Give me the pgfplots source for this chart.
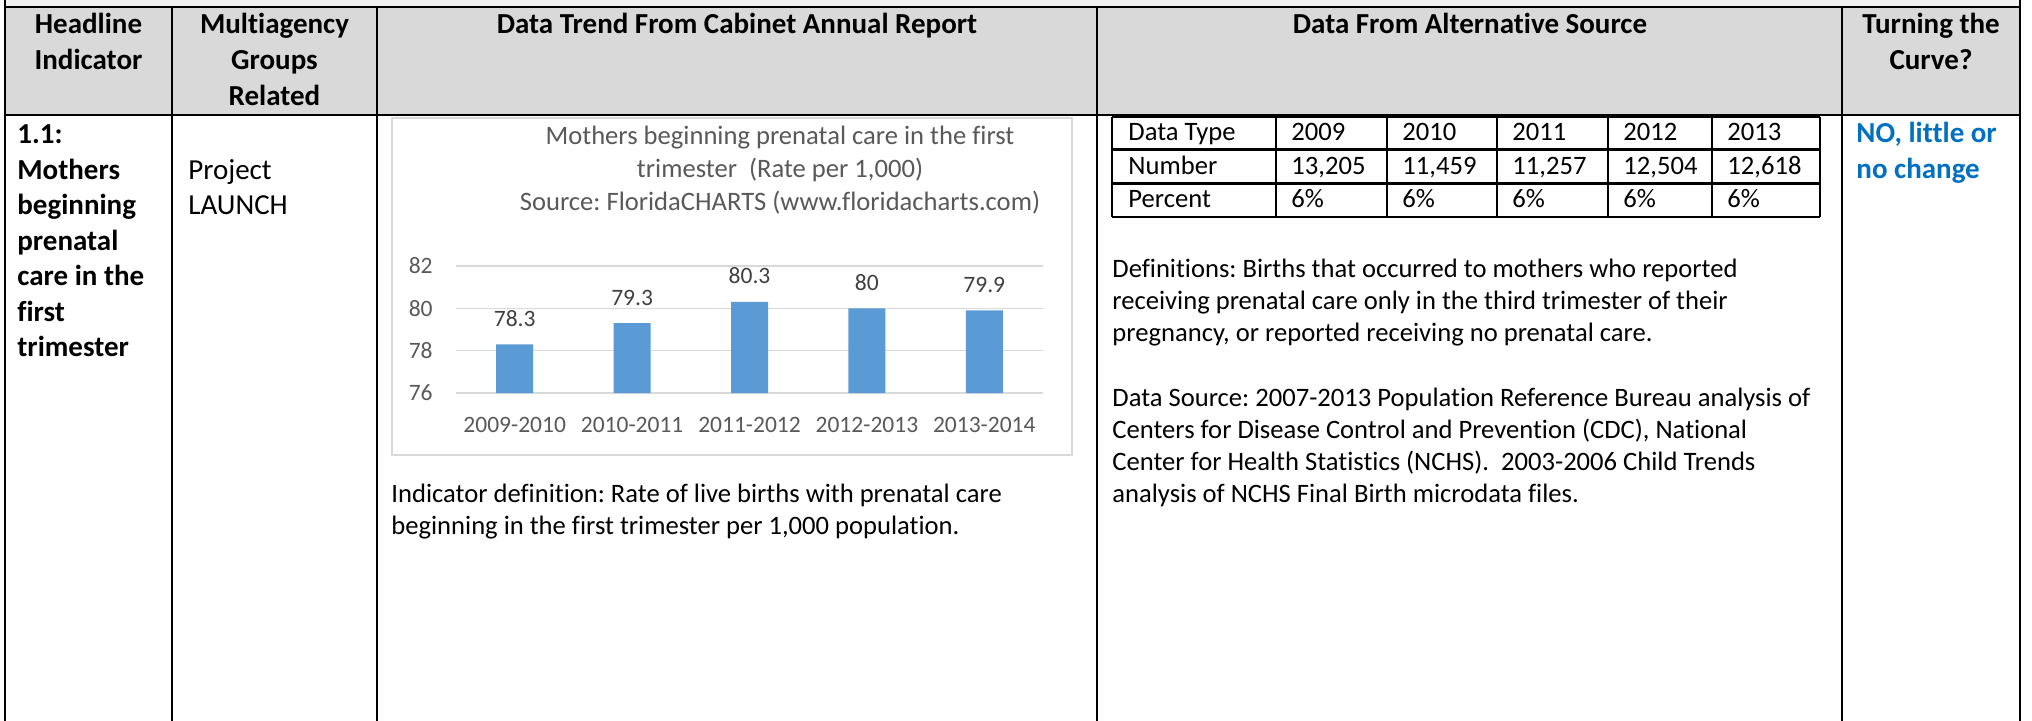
\documentclass[border=0pt]{standalone}
\usepackage{pgfplots}
\pgfplotsset{compat=1.18}
\usepackage{fontspec}
\setmainfont{Carlito}[Ligatures={NoCommon}]
\frenchspacing
\definecolor{hdrgray}{HTML}{D9D9D9}
\definecolor{topgray}{HTML}{F2F2F2}
\definecolor{barblue}{HTML}{5B9BD5}
\definecolor{gridgray}{HTML}{D9D9D9}
\definecolor{txtgray}{HTML}{595959}
\definecolor{lblgray}{HTML}{404040}
\definecolor{noblue}{HTML}{0070C0}
\newcommand{\fbig}{\fontsize{14.5pt}{17.5pt}\selectfont}
\newcommand{\fsmall}{\fontsize{13.3pt}{16.5pt}\selectfont}
\newcommand{\ftick}{\fontsize{11.75pt}{14pt}\selectfont}
\begin{document}
\begin{tikzpicture}
\path[use as bounding box] (0pt,0pt) rectangle (1016pt,-360.5pt);
\clip (0pt,0pt) rectangle (1016pt,-360.5pt);
\begin{scope}[x=0.5pt,y=-0.5pt]
\fill[white] (0,0) rectangle (2032,721);
\fill[topgray] (5,0) rectangle (2020,7);
\fill[hdrgray] (5,7) rectangle (2020,115);
\filldraw[fill=white, draw=gridgray, line width=0.6pt] (392,118) rectangle (1072,455);
\end{scope}

\begin{axis}[
  at={(228pt,-196.5pt)}, anchor=south west,
  scale only axis, width=293.5pt, height=63.5pt,
  xmin=-0.5, xmax=4.5, ymin=76, ymax=82,
  ytick={76,78,80,82},
  xtick={0,1,2,3,4},
  xticklabels={2009-2010,2010-2011,2011-2012,2012-2013,2013-2014},
  axis lines=left, axis line style={draw=none,-},
  major tick length=0pt,
  ymajorgrids, grid style={draw=gridgray, line width=0.75pt},
  /pgf/number format/assume math mode=true,
  ticklabel style={font=\ftick, text=txtgray},
  yticklabel style={anchor=east, inner sep=0pt, xshift=-11.5pt},
  xticklabel style={anchor=center, inner sep=0pt, yshift=-16pt},
  ybar, bar width=18.5pt,
  nodes near coords,
  every node near coord/.append style={font=\ftick, text=lblgray, inner sep=0pt, yshift=8.75pt},
]
\addplot[fill=barblue, draw=none] coordinates {(0,78.3) (1,79.3) (2,80.3) (3,80) (4,79.9)};
\end{axis}

\begin{scope}[x=0.5pt,y=-0.5pt]
% outer and column lines
\draw[line width=1.3pt] (5,0) -- (5,721);
\draw[line width=1.3pt] (2020,0) -- (2020,721);
\draw[line width=1.3pt] (5,7) -- (2020,7);
\draw[line width=1.3pt] (5,115) -- (2020,115);
\foreach \cx in {172,377,1097,1842} \draw[line width=1.3pt] (\cx,7) -- (\cx,721);
% inner table
\foreach \cx in {1112,1276,1387,1497,1608,1712,1820} \draw[line width=1.1pt] (\cx,117) -- (\cx,217);
\foreach \ry in {117,149.5,183.5,217} \draw[line width=1.1pt] (1112,\ry) -- (1820,\ry);

% header text
\begin{scope}[every node/.style={anchor=base, inner sep=0pt, font=\fbig\bfseries}]
\node at (88.5,34) {Headline};
\node at (88.5,70) {Indicator};
\node at (274.5,34) {Multiagency};
\node at (274.5,70) {Groups};
\node at (274.5,106) {Related};
\node at (737,34) {Data Trend From Cabinet Annual Report};
\node at (1470,34) {Data From Alternative Source};
\node at (1931,34) {Turning the};
\node at (1931,70) {Curve?};
\end{scope}

% column 1
\begin{scope}[every node/.style={anchor=base west, inner sep=0pt, font=\fbig\bfseries}]
\node at (17,144) {1.1:};
\node at (17,179.5) {Mothers};
\node at (17,215) {beginning};
\node at (17,250.5) {prenatal};
\node at (17,286) {care in the};
\node at (17,321.5) {first};
\node at (17,357) {trimester};
\node[text=noblue] at (1856,143) {NO, little or};
\node[text=noblue] at (1856,179) {no change};
\end{scope}

% column 2
\begin{scope}[every node/.style={anchor=base west, inner sep=0pt, font=\fbig}]
\node at (188,179.5) {Project};
\node at (188,215) {LAUNCH};
\end{scope}

% chart title
\begin{scope}[every node/.style={anchor=base, inner sep=0pt, font=\fsmall, text=txtgray}]
\node at (780,145) {Mothers beginning prenatal care in the first};
\node at (780,178) {trimester\ \ (Rate per 1,000)};
\node at (780,211) {Source: FloridaCHARTS (www.floridacharts.com)};
\end{scope}

% small text
\begin{scope}[every node/.style={anchor=base west, inner sep=0pt, font=\fsmall}]
\node at (391,502) {Indicator definition: Rate of live births with prenatal care};
\node at (391,534) {beginning in the first trimester per 1,000 population.};
\node at (1128,141) {Data Type};
\node at (1128,175) {Number};
\node at (1128,208) {Percent};
\node at (1291,141) {2009};
\node at (1402,141) {2010};
\node at (1512,141) {2011};
\node at (1623,141) {2012};
\node at (1727,141) {2013};
\node at (1291,175) {13,205};
\node at (1402,175) {11,459};
\node at (1512,175) {11,257};
\node at (1623,175) {12,504};
\node at (1727,175) {12,618};
\node at (1291,208) {6\%};
\node at (1402,208) {6\%};
\node at (1512,208) {6\%};
\node at (1623,208) {6\%};
\node at (1727,208) {6\%};
\node at (1112,278) {Definitions: Births that occurred to mothers who reported};
\node at (1112,310) {receiving prenatal care only in the third trimester of their};
\node at (1112,342) {pregnancy, or reported receiving no prenatal care.};
\node at (1112,406) {Data Source: 2007-2013 Population Reference Bureau analysis of};
\node at (1112,438) {Centers for Disease Control and Prevention (CDC), National};
\node at (1112,470) {Center for Health Statistics (NCHS).\ \ 2003-2006 Child Trends};
\node at (1112,502) {analysis of NCHS Final Birth microdata files.};
\end{scope}
\end{scope}
\end{tikzpicture}
\end{document}
